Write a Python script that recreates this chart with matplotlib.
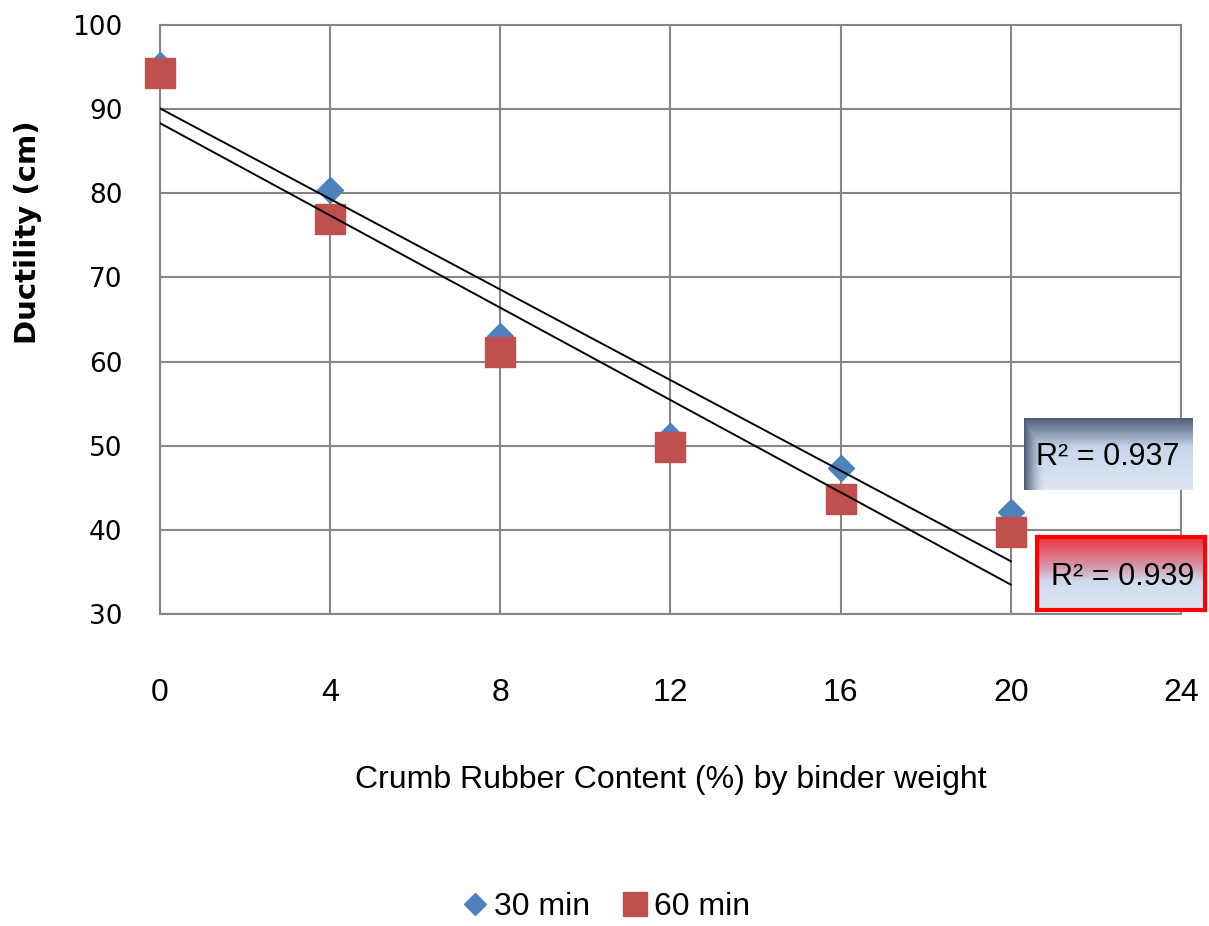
import numpy as np
from matplotlib import pyplot as plt

# Dados
content = [0, 4, 8, 12, 16, 20]
ductility_30 = [95.2, 80.4, 63.0, 51.1, 47.3, 42.1]
ductility_60 = [94.3, 76.9, 61.1, 49.8, 43.7, 39.7]
r2_labels = ['R\u00b2 = 0.937', 'R\u00b2 = 0.939']
x_ticks = [0, 4, 8, 12, 16, 20, 24]
y_ticks = [30, 40, 50, 60, 70, 80, 90, 100]

sans = ['Liberation Sans', 'DejaVu Sans']

fig = plt.figure(figsize=(12.09, 9.26), dpi=100)
ax = fig.add_axes([0.1323, 0.3369, 0.8445, 0.6361])

grid_c = '#868686'
ax.set_xlim(0, 24)
ax.set_ylim(30, 100)
ax.set_xticks(x_ticks)
ax.set_yticks(y_ticks)
ax.grid(True, color=grid_c, linewidth=1.5)
ax.set_axisbelow(True)
for s in ax.spines.values():
    s.set_color(grid_c)
    s.set_linewidth(1.5)
ax.tick_params(axis='both', length=0)
ax.tick_params(axis='x', pad=46, labelsize=23, labelfontfamily='Liberation Sans')
ax.tick_params(axis='y', pad=27, labelsize=19, labelfontfamily='DejaVu Sans')

# Pontos
ax.plot(content, ductility_30, 'D', color='#4F81BD', ms=13, clip_on=False,
        zorder=3, label='30 min')
ax.plot(content, ductility_60, 's', color='#C0504D', ms=21, clip_on=False,
        zorder=4, label='60 min')

# Linhas de tendência
xs = np.array([content[0], content[-1]])
for ys in (ductility_30, ductility_60):
    k, b = np.polyfit(content, ys, 1)
    ax.plot(xs, k * xs + b, color='black', lw=1.4, zorder=5)

ax.set_xlabel('Crumb Rubber Content (%) by binder weight', fontsize=23,
              family=sans, va='center')
ax.xaxis.set_label_coords(0.5, -0.282)
ax.set_ylabel('Ductility (cm)', fontsize=21, fontweight='bold',
              family='DejaVu Sans', va='center', ha='center')
ax.yaxis.set_label_coords(-0.129, 0.649)

fig.legend(loc='center', bbox_to_anchor=(0.5, 0.02), ncol=2, frameon=False,
           prop={'family': sans, 'size': 23}, handletextpad=0.1,
           columnspacing=0.9, handlelength=1.0, markerscale=0.85)


# Caixas do R²
def gradient_box(rect, top_dark, left_fade, stop, border=None):
    bx = fig.add_axes(rect)
    h, w = 100, 200
    t = np.linspace(0, 1, h)[:, None] * np.ones((1, w))
    u = np.ones((h, 1)) * np.linspace(0, 1, w)[None, :]
    light_top = np.array([0.77, 0.83, 0.92])
    light_bot = np.array([0.87, 0.90, 0.95])
    frac = np.clip((t - 0.35) / 0.65, 0, 1)[..., None]
    base = light_top * (1 - frac) + light_bot * frac
    v = np.clip(1 - t / stop, 0, 1) ** 0.9
    if left_fade:
        v = np.maximum(v, np.clip(1 - u / 0.12, 0, 1) ** 1.5)
    img = base * (1 - v[..., None]) + np.array(top_dark) * v[..., None]
    bx.imshow(img, aspect='auto', extent=(0, 1, 0, 1))
    bx.set_xticks([])
    bx.set_yticks([])
    for s in bx.spines.values():
        if border:
            s.set_color(border)
            s.set_linewidth(3)
        else:
            s.set_visible(False)
    return bx


b1 = gradient_box([0.847, 0.4708, 0.139, 0.0778], (0.31, 0.36, 0.46), True, 0.4)
b1.text(0.07, 0.46, r2_labels[0], transform=b1.transAxes, fontsize=22,
        family=sans, va='center', ha='left')
b2 = gradient_box([0.858, 0.3413, 0.139, 0.0788], (0.93, 0.20, 0.26), False, 0.6,
                  border='#FF0000')
b2.text(0.08, 0.45, r2_labels[1], transform=b2.transAxes, fontsize=22,
        family=sans, va='center', ha='left')

plt.savefig('out.png', dpi=100)
